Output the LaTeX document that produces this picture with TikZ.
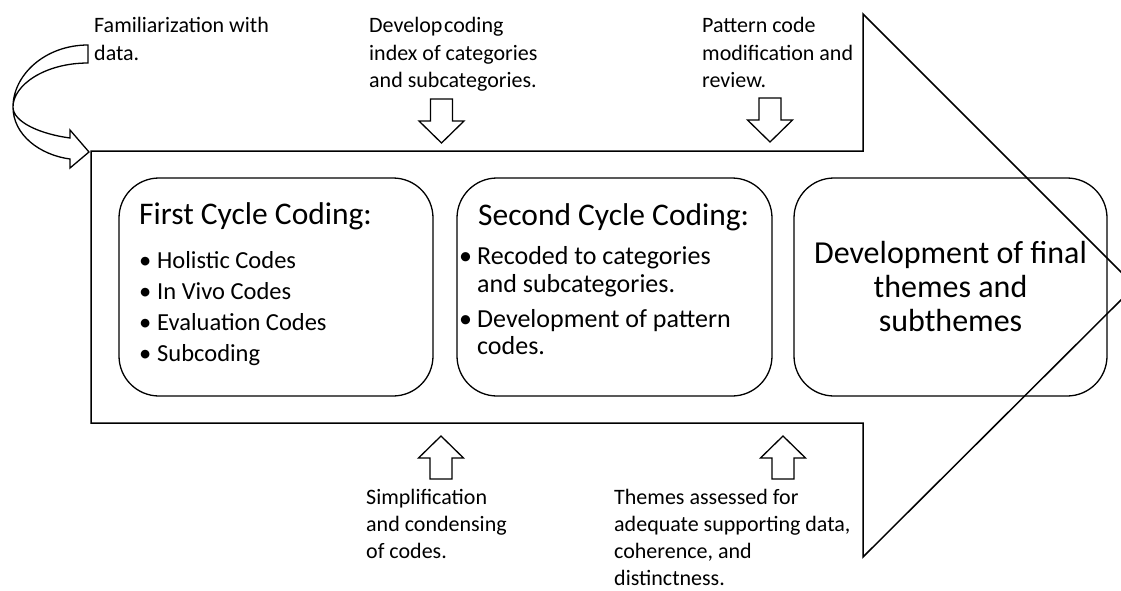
\documentclass[tikz,border=0pt]{standalone}
\usepackage{fontspec}
\setmainfont{Carlito}
\begin{document}
\begin{tikzpicture}[x=1pt,y=-1pt,line join=miter,
  outline/.style={draw=black,line width=1.5pt},
  blk/.style={draw=black,line width=1.3pt,fill=white},
  stage/.style={draw=black,line width=1.3pt,rounded corners=40pt,inner sep=0pt},
  lbl/.style={anchor=base west,inner sep=0pt,font=\fontsize{22}{26}\selectfont},
  ttl/.style={anchor=base west,inner sep=0pt,font=\fontsize{31.5}{34}\selectfont},
  itma/.style={anchor=base west,inner sep=0pt,font=\fontsize{24.5}{28}\selectfont},
  itmb/.style={anchor=base west,inner sep=0pt,font=\fontsize{26}{28}\selectfont},
  fin/.style={anchor=base,inner sep=0pt,font=\fontsize{32}{34}\selectfont},
  downarrow/.pic={\draw[blk] (-11,0) -- (11,0) -- (11,22) -- (22.5,22) -- (0,44)
                     -- (-22.5,22) -- (-11,22) -- cycle;},
  uparrow/.pic={\draw[blk] (-11,0) -- (11,0) -- (11,-21) -- (22.5,-21) -- (0,-43)
                     -- (-22.5,-21) -- (-11,-21) -- cycle;}]
\useasboundingbox (0,0) rectangle (1121,590);
\clip (0,0) rectangle (1121,590);

% large process arrow
\draw[outline] (91,151) -- (863,151) -- (863,14) -- (1135,286) -- (863,557)
  -- (863,423) -- (91,423) -- cycle;

% curved entry arrow
\draw[outline,line width=1.3pt] (88,45) .. controls (45,45) and (13,75) .. (13,107)
  .. controls (13,135) and (40,155) .. (70,159)
  -- (70,168) -- (89,152) -- (70,130) -- (70,138)
  .. controls (40,134) and (13,122) .. (13,107)
  .. controls (13,85) and (45,63) .. (88,63) -- cycle;

% stage boxes
\node[stage,minimum width=314,minimum height=218] (first) at (276,287) {};
\node[stage,minimum width=315,minimum height=218] (second) at (614.5,287) {};
\node[stage,minimum width=313,minimum height=218] (final) at (950.5,287) {};

% first stage text
\node[ttl] (t1) at (139,224) {First Cycle Coding:};
\node[itma] (a1) at (139,268) {\makebox[18pt][l]{•}Holistic Codes};
\node[itma] (a2) at (139,299) {\makebox[18pt][l]{•}In Vivo Codes};
\node[itma] (a3) at (139,330) {\makebox[18pt][l]{•}Evaluation Codes};
\node[itma] (a4) at (139,361) {\makebox[18pt][l]{•}Subcoding};

% second stage text
\node[ttl] (t2) at (478,225) {Second Cycle Coding:};
\node[itmb] (b1) at (459,264) {\makebox[18pt][l]{•}Recoded to categories};
\node[itmb] (b1b) at (477,292) {and subcategories.};
\node[itmb] (b2) at (459,327) {\makebox[18pt][l]{•}Development of pattern};
\node[itmb] (b2b) at (477,354) {codes.};

% final stage text
\node[fin] (f1) at (950.5,263) {Development of final};
\node[fin] (f2) at (950.5,297) {themes and};
\node[fin] (f3) at (950.5,331) {subthemes};

% block arrows feeding the process
\pic at (441.5,99) {downarrow};
\pic at (770,98) {downarrow};
\pic at (441,479) {uparrow};
\pic at (783,479) {uparrow};

% upper annotations
\node[lbl] (fa) at (94,32) {Familiarization with};
\node[lbl] (fb) at (94,60) {data.};
\node[lbl] (da) at (369,32) {Develop\hspace{0.08em}coding};
\node[lbl] (db) at (369,60) {index of categories};
\node[lbl] (dc) at (369,87) {and subcategories.};
\node[lbl] (pa) at (702,32) {Pattern code};
\node[lbl] (pb) at (702,60) {modification and};
\node[lbl] (pc) at (702,87) {review.};

% lower annotations
\node[lbl] (sa) at (366,504) {Simplification};
\node[lbl] (sb) at (366,531) {and condensing};
\node[lbl] (sc) at (366,558) {of codes.};
\node[lbl] (ea) at (614,504) {Themes assessed for};
\node[lbl] (eb) at (614,531) {adequate supporting data,};
\node[lbl] (ec) at (614,558) {coherence, and};
\node[lbl] (ed) at (614,585) {distinctness.};
\end{tikzpicture}
\end{document}
